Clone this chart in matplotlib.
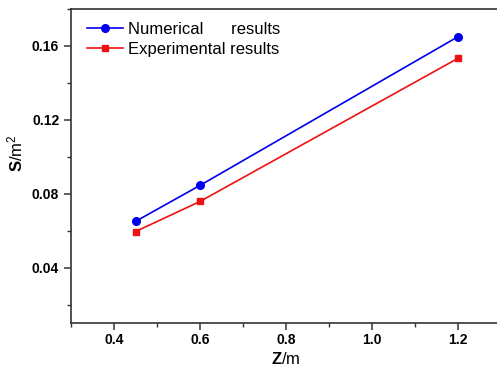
import matplotlib
matplotlib.use("Agg")
import matplotlib.pyplot as plt
from matplotlib.ticker import MultipleLocator

plt.rcParams['font.family'] = ['Liberation Sans', 'DejaVu Sans']
plt.rcParams['mathtext.fontset'] = 'custom'
plt.rcParams['mathtext.rm'] = 'Liberation Sans'
plt.rcParams['mathtext.bf'] = 'Liberation Sans:bold'
plt.rcParams['mathtext.it'] = 'Liberation Sans:italic'

z = [0.45, 0.6, 1.2]
numerical = [0.065, 0.0845, 0.165]
experimental = [0.0595, 0.0758, 0.1533]
labels = ['Numerical      results', 'Experimental results']

fig = plt.figure(figsize=(4.97, 3.69), dpi=100)
ax = fig.add_axes([71/497, 1-323/369, (501-71)/497, (323-9)/369])

ax.plot(z, numerical, color='#0000ee', marker='o', markersize=5.5, linewidth=1.2, label=labels[0])
ax.plot(z, experimental, color='#ee1111', marker='s', markersize=5, linewidth=1.2, label=labels[1])

ax.set_xlim(0.3, 1.3)
ax.set_ylim(0.01, 0.18)
ax.xaxis.set_minor_locator(MultipleLocator(0.1))
ax.yaxis.set_minor_locator(MultipleLocator(0.02))
ax.set_xticks([0.4, 0.6, 0.8, 1.0, 1.2])
ax.set_xticklabels(['0.4', '0.6', '0.8', '1.0', '1.2'])
ax.set_yticks([0.04, 0.08, 0.12, 0.16])
ax.set_yticklabels(['0.04', '0.08', '0.12', '0.16'])

for s in ax.spines.values():
    s.set_linewidth(1.2)
    s.set_color('#333333')
ax.tick_params(which='major', direction='out', length=5, width=1.1, labelsize=10, colors='#333333', labelcolor='black')
ax.tick_params(axis='x', which='major', pad=2)
ax.tick_params(which='minor', direction='out', length=3, width=1.0, colors='#333333')
for t in ax.get_xticklabels() + ax.get_yticklabels():
    t.set_fontweight('bold')

ax.set_xlabel(r'$\mathbf{Z}\mathrm{/m}$', fontsize=12)
ax.set_ylabel(r'$\mathbf{S}\mathrm{/m}^2$', fontsize=12)
ax.xaxis.set_label_coords(0.5, -0.088)
ax.yaxis.set_label_coords(-0.105, 0.54)

ax.legend(loc='upper left', frameon=False, fontsize=12, handlelength=2.2,
          handletextpad=0.3, borderaxespad=0.0, labelspacing=0.3,
          bbox_to_anchor=(0.021, 0.979))

fig.savefig('out.png', dpi=100)
